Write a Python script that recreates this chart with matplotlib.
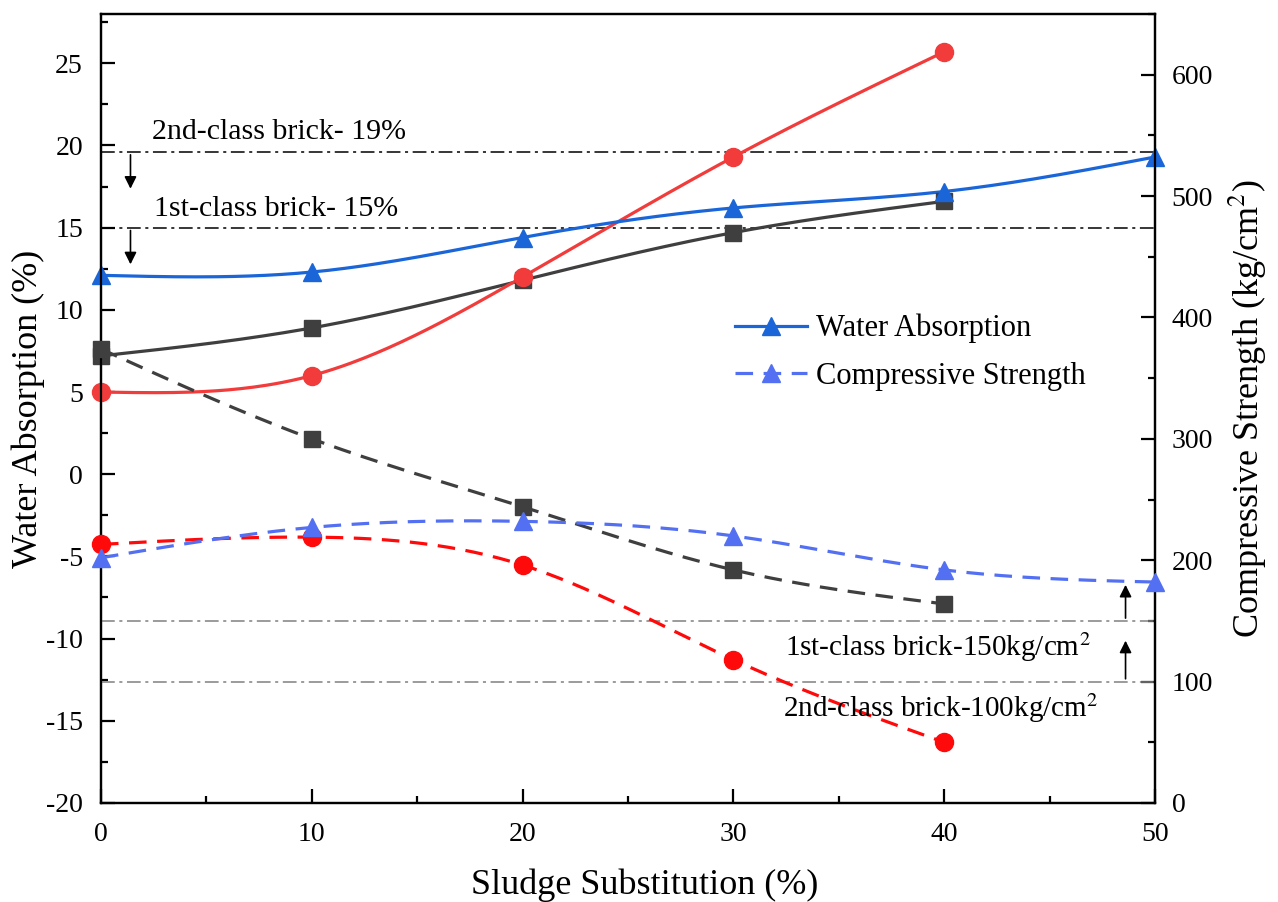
import numpy as np
import matplotlib
matplotlib.use("Agg")
import matplotlib.pyplot as plt
from matplotlib.ticker import MultipleLocator

plt.rcParams['font.family'] = ['Liberation Serif', 'DejaVu Serif']
plt.rcParams['mathtext.fontset'] = 'stix'
plt.rcParams['axes.unicode_minus'] = False

# sludge substitution (%)
x_sub = [0, 10, 20, 30, 40]
x_sub_blue = [0, 10, 20, 30, 40, 50]

# water absorption (%), left axis
wa_black = [7.2, 8.9, 11.8, 14.7, 16.6]
wa_red = [5.0, 6.0, 12.0, 19.3, 25.7]
wa_blue = [12.1, 12.3, 14.4, 16.2, 17.2, 19.3]

# compressive strength (kg/cm2), right axis
cs_black = [374, 300, 244, 192, 164]
cs_red = [213, 219, 196, 118, 50]
cs_blue = [202, 227, 232, 220, 192, 182]

# limits
wa_limits = [19.6, 15.0]
wa_limit_labels = ["2nd-class brick- 19%", "1st-class brick- 15%"]
cs_limits = [150, 100]
cs_limit_labels = ["1st-class brick-150kg/cm$^2$", "2nd-class brick-100kg/cm$^2$"]


def spline(x, y, n=200):
    # natural cubic spline through the points, only for drawing the line
    x = np.asarray(x, float)
    y = np.asarray(y, float)
    k = len(x)
    h = np.diff(x)
    A = np.zeros((k, k))
    b = np.zeros(k)
    A[0, 0] = 1
    A[-1, -1] = 1
    for i in range(1, k - 1):
        A[i, i - 1] = h[i - 1]
        A[i, i] = 2 * (h[i - 1] + h[i])
        A[i, i + 1] = h[i]
        b[i] = 6 * ((y[i + 1] - y[i]) / h[i] - (y[i] - y[i - 1]) / h[i - 1])
    M = np.linalg.solve(A, b)
    xs = np.linspace(x[0], x[-1], n)
    ys = np.empty_like(xs)
    for j, xv in enumerate(xs):
        i = min(np.searchsorted(x, xv, side='right') - 1, k - 2)
        t1 = x[i + 1] - xv
        t0 = xv - x[i]
        ys[j] = (M[i] * t1 ** 3 + M[i + 1] * t0 ** 3) / (6 * h[i]) \
            + (y[i] / h[i] - M[i] * h[i] / 6) * t1 \
            + (y[i + 1] / h[i] - M[i + 1] * h[i] / 6) * t0
    return xs, ys


c_black = '#3f3f3f'
c_red = '#f23b3b'
c_red2 = '#ff0a0a'
c_blue = '#1a66d9'
c_blue2 = '#5470f2'

fig = plt.figure(figsize=(12.78, 9.02), dpi=100)
ax = fig.add_axes([0.079, 0.1098, 0.8248, 0.8747])
ax2 = ax.twinx()

lw = 2.3
dash = (5.5, 3.3)

# solid = water absorption
for xv, yv, c, m, ms in [(x_sub, wa_black, c_black, 's', 11),
                         (x_sub, wa_red, c_red, 'o', 13),
                         (x_sub_blue, wa_blue, c_blue, '^', 13)]:
    xs, ys = spline(xv, yv)
    ax.plot(xs, ys, color=c, lw=lw, zorder=3)
    ax.plot(xv, yv, ls='none', marker=m, ms=ms, color=c, zorder=4, clip_on=False)

# dashed = compressive strength
for xv, yv, c, m, ms in [(x_sub, cs_black, c_black, 's', 11),
                         (x_sub, cs_red, c_red2, 'o', 13),
                         (x_sub_blue, cs_blue, c_blue2, '^', 13)]:
    xs, ys = spline(xv, yv)
    ax2.plot(xs, ys, color=c, lw=lw, dashes=dash, zorder=3)
    ax2.plot(xv, yv, ls='none', marker=m, ms=ms, color=c, zorder=4, clip_on=False)

# limit lines
dd = (0, (9, 3, 2, 3))
for v in wa_limits:
    ax.axhline(v, color='black', lw=1.1, ls=dd, zorder=2)
for v in cs_limits:
    ax2.axhline(v, color='#808080', lw=1.1, ls=dd, zorder=2)

ax.text(2.4, 20.85, wa_limit_labels[0], fontsize=21.5, ha='left', va='center')
ax.text(2.5, 16.15, wa_limit_labels[1], fontsize=21.5, ha='left', va='center')
ax.annotate('', xy=(1.4, 17.2), xytext=(1.4, 19.6),
            arrowprops=dict(arrowstyle='-|>', color='black', lw=1.2, mutation_scale=18))
ax.annotate('', xy=(1.4, 12.6), xytext=(1.4, 15.0),
            arrowprops=dict(arrowstyle='-|>', color='black', lw=1.2, mutation_scale=18))

ax2.text(32.45, 128, cs_limit_labels[0], fontsize=21, ha='left', va='center')
ax2.text(32.35, 78, cs_limit_labels[1], fontsize=21, ha='left', va='center')
ax2.annotate('', xy=(48.6, 182), xytext=(48.6, 150),
             arrowprops=dict(arrowstyle='-|>', color='black', lw=1.2, mutation_scale=18))
ax2.annotate('', xy=(48.6, 136), xytext=(48.6, 100),
             arrowprops=dict(arrowstyle='-|>', color='black', lw=1.2, mutation_scale=18))

# legend
h1, = ax.plot([], [], color=c_blue, lw=lw, marker='^', ms=13)
h2, = ax.plot([], [], color=c_blue2, lw=lw, dashes=dash, marker='^', ms=13)
ax.legend([h1, h2], ['Water Absorption', 'Compressive Strength'], loc='upper left',
          bbox_to_anchor=(0.6015, 0.62), borderaxespad=0, borderpad=0,
          frameon=False, fontsize=22, handlelength=2.35, handletextpad=0.3,
          labelspacing=0.6)

ax.set_xlim(0, 50)
ax.set_ylim(-20, 28)
ax2.set_ylim(0, 650)

ax.xaxis.set_major_locator(MultipleLocator(10))
ax.xaxis.set_minor_locator(MultipleLocator(5))
ax.yaxis.set_major_locator(MultipleLocator(5))
ax.yaxis.set_minor_locator(MultipleLocator(2.5))
ax2.yaxis.set_major_locator(MultipleLocator(100))
ax2.yaxis.set_minor_locator(MultipleLocator(50))

for a in (ax, ax2):
    a.tick_params(which='major', direction='in', length=10, width=1.6, labelsize=20)
    a.tick_params(which='minor', direction='in', length=5, width=1.6)
    for s in a.spines.values():
        s.set_linewidth(1.6)
ax.tick_params(axis='x', pad=14)
ax.tick_params(axis='y', pad=13)
ax2.tick_params(axis='y', pad=12)

ax.set_xlabel('Sludge Substitution (%)', fontsize=26)
ax.xaxis.set_label_coords(0.516, -0.083, transform=ax.transAxes)
ax.xaxis.label.set_va('top')
ax.set_ylabel('Water Absorption (%)', fontsize=26, labelpad=1)
ax2.set_ylabel('Compressive Strength (kg/cm$^2$)', fontsize=26, labelpad=10)

fig.savefig('out.png', dpi=100)
